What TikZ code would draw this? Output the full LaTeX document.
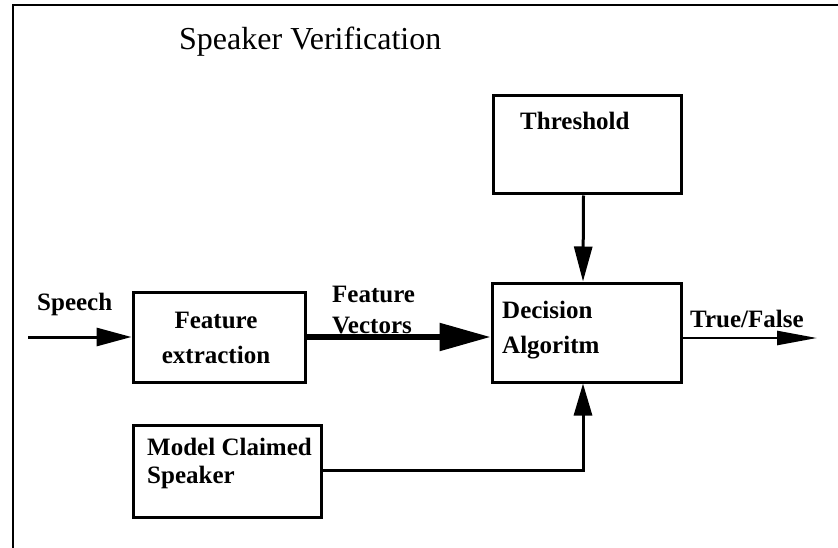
\documentclass[tikz,border=0pt]{standalone}
\usepackage{fontspec}
\setmainfont{Liberation Serif}
\usetikzlibrary{arrows.meta}

\tikzset{
  block/.style={draw, line width=3pt, rectangle, inner sep=0pt},
  lbl/.style={font=\fontsize{25}{30}\selectfont\bfseries, inner sep=0pt, anchor=base west},
  flow/.style={line width=3pt},
  thinhead/.style={-{Triangle[length=35pt,width=18pt]}},
}

\begin{document}
\begin{tikzpicture}[x=1pt,y=-1pt]
  \useasboundingbox (0,0) rectangle (838,548);

  % open frame: top and left edges only
  \draw[line width=2pt] (12.5,548) -- (12.5,5) -- (838,5);

  % title
  \node[font=\fontsize{32}{38}\selectfont, inner sep=0pt, anchor=base west] (title) at (179,50) {Speaker Verification};

  % blocks
  \node[block, minimum width=188pt, minimum height=98pt] (thr) at (587,145) {};
  \node[block, minimum width=189pt, minimum height=99pt] (dec) at (586.5,332.5) {};
  \node[block, minimum width=172pt, minimum height=90pt] (fe) at (219,337) {};
  \node[block, minimum width=188pt, minimum height=92pt] (mcs) at (227,471) {};

  % block texts
  \node[lbl] (thrtxt) at (520,130) {Threshold};
  \node[lbl, anchor=base] (fetxtA) at (216,328) {Feature};
  \node[lbl, anchor=base] (fetxtB) at (216,363) {extraction};
  \node[lbl] (dectxtA) at (502,318) {Decision};
  \node[lbl] (dectxtB) at (502,353) {Algoritm};
  \node[lbl] (mcstxtA) at (147,455) {Model Claimed};
  \node[lbl] (mcstxtB) at (147,483) {Speaker};

  % signal labels
  \node[lbl] (speech) at (37,310) {Speech};
  \node[lbl] (fvA) at (332,302) {Feature};
  \node[lbl] (fvB) at (332,333) {Vectors};
  \node[lbl] (tf) at (690,327) {True/False};

  % free ends of the input and output lines
  \coordinate (speechin) at (28,337);
  \coordinate (tfout) at (817,338);

  % connectors
  \draw[flow, thinhead] (speechin) -- (speechin -| fe.west);
  \draw[line width=5.5pt, -{Triangle[length=51pt,width=27pt]}] (fe.east) -- (fe.east -| dec.west);
  \draw[line width=2.5pt, -{Triangle[length=40pt,width=14pt]}] (tfout -| dec.east) -- (tfout);
  \draw[flow, thinhead] ([xshift=-3.5pt]thr.south) -- ([xshift=-3.5pt]dec.north);
  \draw[flow, -{Triangle[length=32pt,width=18pt]}] ([yshift=1pt]mcs.east) -| ([xshift=-3.5pt]dec.south);
\end{tikzpicture}
\end{document}
